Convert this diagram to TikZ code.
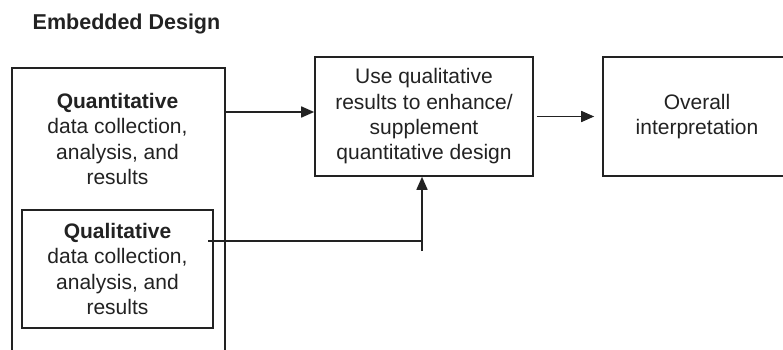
\documentclass[tikz,border=0pt]{standalone}
\usepackage{fontspec}
\setmainfont{Liberation Sans}
\usetikzlibrary{arrows.meta}
\definecolor{ink}{HTML}{222222}
\tikzset{
  boxframe/.style={draw=ink, line width=1.6pt, inner sep=0pt},
  txt/.style={text=ink, align=center, font=\fontsize{21}{25.3}\selectfont, inner sep=0pt},
  conn/.style={draw=ink, line width=1.6pt},
  arr/.style={conn, -{Triangle[length=13pt,width=11pt]}}
}
\begin{document}
\begin{tikzpicture}[x=1pt,y=-1pt]
\clip (0,0) rectangle (783,350);
\fill[white] (0,0) rectangle (783,350);
\node[txt, font=\fontsize{21.5}{25.3}\selectfont\bfseries] (title) at (126.5,24) {Embedded Design};
\node[boxframe, anchor=north west, minimum width=213pt, minimum height=300pt] (outer) at (11,67) {};
\node[txt] (quant) at (117.5,139) {\textbf{Quantitative}\\data collection,\\analysis, and\\results};
\node[boxframe, txt, minimum width=191pt, minimum height=118pt] (qual) at (117.5,269) {\textbf{Qualitative}\\data collection,\\analysis, and\\results};
\node[boxframe, txt, minimum width=218pt, minimum height=119pt] (mid) at (424,116.5) {Use qualitative\\results to enhance/\\supplement\\quantitative design};
\node[boxframe, txt, minimum width=188pt, minimum height=119pt] (final) at (697,116.5) {Overall\\interpretation};
\coordinate (a1) at (226,112);
\draw[arr] (a1) -- (a1 -| mid.west);
\draw[arr] ([xshift=3pt]mid.east) -- ([xshift=-8pt]final.west);
\coordinate (q1) at (208,241);
\coordinate (j) at (422,241);
\coordinate (stub) at (422,251);
\draw[conn] (q1) -- (j);
\draw[arr] (stub) -- (j |- mid.south);
\end{tikzpicture}
\end{document}
